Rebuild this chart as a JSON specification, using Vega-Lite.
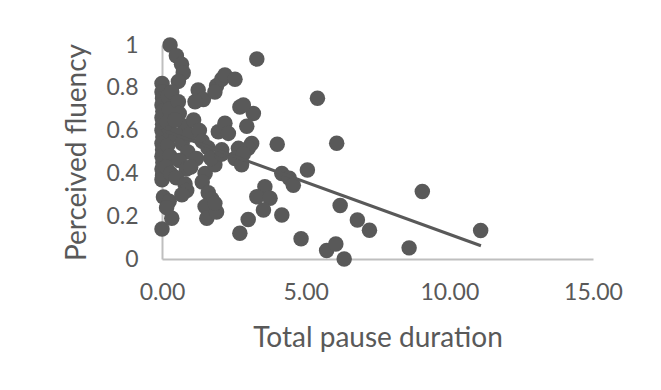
{
  "$schema": "https://vega.github.io/schema/vega-lite/v6.json",
  "autosize": "none",
  "width": 431,
  "height": 214,
  "padding": {"left": 162, "top": 45, "right": 68, "bottom": 131},
  "background": "white",
  "config": {
    "view": {"stroke": null},
    "font": "Lato",
    "axis": {
      "grid": false,
      "ticks": false,
      "domainColor": "#bfbfbf",
      "domainWidth": 2,
      "labelColor": "#595959",
      "titleColor": "#595959",
      "labelFont": "Lato",
      "titleFont": "Lato",
      "labelFontSize": 23,
      "titleFontSize": 28,
      "titleFontWeight": "normal"
    }
  },
  "layer": [
    {
      "data": {
        "values": [
          {"pause": 0.0, "fluency": 0.82}, {"pause": 0.0, "fluency": 0.78}, {"pause": 0.02, "fluency": 0.75},
          {"pause": 0.0, "fluency": 0.72}, {"pause": 0.03, "fluency": 0.69}, {"pause": 0.0, "fluency": 0.66},
          {"pause": 0.02, "fluency": 0.63}, {"pause": 0.0, "fluency": 0.6}, {"pause": 0.03, "fluency": 0.57},
          {"pause": 0.0, "fluency": 0.54}, {"pause": 0.02, "fluency": 0.51}, {"pause": 0.0, "fluency": 0.48},
          {"pause": 0.03, "fluency": 0.45}, {"pause": 0.0, "fluency": 0.42}, {"pause": 0.02, "fluency": 0.39},
          {"pause": 0.0, "fluency": 0.37}, {"pause": 0.05, "fluency": 0.29}, {"pause": 0.0, "fluency": 0.14},
          {"pause": 0.2, "fluency": 0.76}, {"pause": 0.25, "fluency": 0.7}, {"pause": 0.18, "fluency": 0.64},
          {"pause": 0.3, "fluency": 0.59}, {"pause": 0.2, "fluency": 0.53}, {"pause": 0.28, "fluency": 0.48},
          {"pause": 0.15, "fluency": 0.43}, {"pause": 0.3, "fluency": 0.4}, {"pause": 0.25, "fluency": 0.27},
          {"pause": 0.34, "fluency": 0.19}, {"pause": 0.16, "fluency": 0.24},
          {"pause": 0.28, "fluency": 1.0}, {"pause": 0.5, "fluency": 0.95}, {"pause": 0.68, "fluency": 0.91},
          {"pause": 0.74, "fluency": 0.87}, {"pause": 0.57, "fluency": 0.83}, {"pause": 0.34, "fluency": 0.78},
          {"pause": 0.57, "fluency": 0.735}, {"pause": 0.6, "fluency": 0.68}, {"pause": 0.8, "fluency": 0.62},
          {"pause": 0.5, "fluency": 0.58}, {"pause": 0.7, "fluency": 0.54}, {"pause": 0.9, "fluency": 0.5},
          {"pause": 0.6, "fluency": 0.46}, {"pause": 0.85, "fluency": 0.42}, {"pause": 0.5, "fluency": 0.38},
          {"pause": 0.8, "fluency": 0.35}, {"pause": 0.86, "fluency": 0.32}, {"pause": 0.69, "fluency": 0.3},
          {"pause": 0.45, "fluency": 0.65}, {"pause": 0.95, "fluency": 0.58},
          {"pause": 1.26, "fluency": 0.79}, {"pause": 1.44, "fluency": 0.745}, {"pause": 1.15, "fluency": 0.735},
          {"pause": 1.1, "fluency": 0.65}, {"pause": 1.3, "fluency": 0.6}, {"pause": 1.4, "fluency": 0.55},
          {"pause": 1.6, "fluency": 0.52}, {"pause": 1.2, "fluency": 0.47}, {"pause": 1.0, "fluency": 0.43},
          {"pause": 1.5, "fluency": 0.4}, {"pause": 1.4, "fluency": 0.36}, {"pause": 1.61, "fluency": 0.31},
          {"pause": 1.73, "fluency": 0.28}, {"pause": 1.5, "fluency": 0.245}, {"pause": 1.56, "fluency": 0.19},
          {"pause": 1.9, "fluency": 0.22}, {"pause": 1.84, "fluency": 0.44}, {"pause": 1.7, "fluency": 0.47},
          {"pause": 2.08, "fluency": 0.49}, {"pause": 1.9, "fluency": 0.81}, {"pause": 2.08, "fluency": 0.84},
          {"pause": 2.19, "fluency": 0.86}, {"pause": 2.54, "fluency": 0.84}, {"pause": 1.84, "fluency": 0.78},
          {"pause": 1.96, "fluency": 0.595}, {"pause": 2.19, "fluency": 0.634}, {"pause": 2.31, "fluency": 0.587},
          {"pause": 2.08, "fluency": 0.51}, {"pause": 1.84, "fluency": 0.26},
          {"pause": 2.71, "fluency": 0.71}, {"pause": 3.18, "fluency": 0.68}, {"pause": 2.95, "fluency": 0.62},
          {"pause": 3.12, "fluency": 0.54}, {"pause": 2.66, "fluency": 0.517}, {"pause": 3.0, "fluency": 0.517},
          {"pause": 2.54, "fluency": 0.47}, {"pause": 2.77, "fluency": 0.44}, {"pause": 3.3, "fluency": 0.935},
          {"pause": 4.01, "fluency": 0.536}, {"pause": 4.17, "fluency": 0.4}, {"pause": 4.43, "fluency": 0.377},
          {"pause": 4.57, "fluency": 0.345}, {"pause": 3.58, "fluency": 0.338}, {"pause": 3.3, "fluency": 0.291},
          {"pause": 3.76, "fluency": 0.284}, {"pause": 3.53, "fluency": 0.229}, {"pause": 4.17, "fluency": 0.206},
          {"pause": 3.0, "fluency": 0.185}, {"pause": 2.71, "fluency": 0.12}, {"pause": 2.83, "fluency": 0.72},
          {"pause": 2.83, "fluency": 0.49},
          {"pause": 5.41, "fluency": 0.751}, {"pause": 6.08, "fluency": 0.541}, {"pause": 5.06, "fluency": 0.416},
          {"pause": 6.2, "fluency": 0.25}, {"pause": 6.8, "fluency": 0.182}, {"pause": 7.22, "fluency": 0.134},
          {"pause": 9.06, "fluency": 0.315}, {"pause": 11.09, "fluency": 0.133}, {"pause": 8.6, "fluency": 0.052},
          {"pause": 4.84, "fluency": 0.095}, {"pause": 5.73, "fluency": 0.04}, {"pause": 6.05, "fluency": 0.07},
          {"pause": 6.34, "fluency": 0.0}
        ]
      },
      "mark": {"type": "circle", "size": 240, "color": "#595959", "opacity": 1},
      "encoding": {
        "x": {
          "field": "pause", "type": "quantitative",
          "scale": {"domain": [0, 15], "nice": false, "zero": true},
          "axis": {"values": [0, 5, 10, 15], "format": ".2f", "title": "Total pause duration", "labelPadding": 22, "titlePadding": 20, "labelFlush": false}
        },
        "y": {
          "field": "fluency", "type": "quantitative",
          "scale": {"domain": [0, 1], "nice": false},
          "axis": {"values": [0, 0.2, 0.4, 0.6, 0.8, 1], "format": "~g", "title": "Perceived fluency", "labelPadding": 24, "titlePadding": 14, "labelFlush": false}
        }
      }
    },
    {
      "data": {"values": [{"pause": 0, "fluency": 0.603}, {"pause": 11.1, "fluency": 0.062}]},
      "mark": {"type": "line", "color": "#595959", "strokeWidth": 3},
      "encoding": {
        "x": {"field": "pause", "type": "quantitative"},
        "y": {"field": "fluency", "type": "quantitative"}
      }
    }
  ]
}
